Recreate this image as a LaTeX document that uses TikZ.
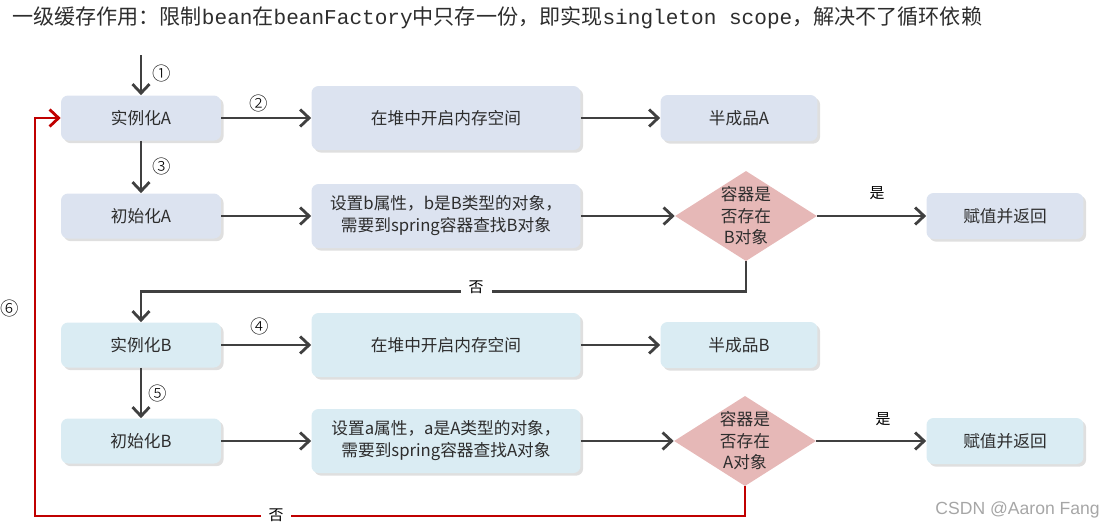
\documentclass[tikz,border=0pt]{standalone}
\usepackage{fontspec}
\setmainfont{Noto Sans CJK SC}
\newfontfamily\latinmono{Liberation Mono}
\newfontfamily\markfont{Noto Sans CJK SC Light}
\newfontfamily\wmfont{Liberation Sans}
\usepackage{xcolor}
\definecolor{boxblue}{RGB}{220, 227, 240}
\definecolor{boxcyan}{RGB}{218, 236, 243}
\definecolor{checkred}{RGB}{230, 184, 183}
\definecolor{flowgrey}{RGB}{64, 64, 64}
\definecolor{loopred}{RGB}{192, 0, 0}
\definecolor{textgrey}{RGB}{45, 45, 45}
\usetikzlibrary{
  arrows.meta,
  shapes.geometric,
  shadows
}

\begin{document}
\begin{tikzpicture}[x=0.02cm, y=-0.02cm,
  stepbox/.style={rectangle, rounded corners=4pt, fill=boxblue, text=textgrey,
    minimum width=3.2cm, minimum height=0.9cm, align=center,
    font=\fontsize{9.5}{12.5}\selectfont,
    drop shadow={shadow xshift=1.5pt, shadow yshift=-1.5pt, opacity=0.25}},
  heapbox/.style={stepbox, minimum width=5.38cm, minimum height=1.28cm},
  resultbox/.style={stepbox, minimum width=3.14cm, minimum height=0.92cm},
  checkbox/.style={diamond, fill=checkred, text=textgrey, inner sep=0pt, aspect=1.57,
    minimum width=2.84cm, minimum height=1.8cm, align=center,
    font=\fontsize{9.5}{12.2}\selectfont},
  flow/.style={draw=flowgrey, line width=1.6pt, -{Straight Barb[length=1.8mm, width=3.4mm]}},
  loopback/.style={flow, draw=loopred},
  steplabel/.style={font=\markfont\fontsize{10.5}{12}\selectfont, text=black},
  branchlabel/.style={font=\fontsize{8.5}{10}\selectfont, text=black, fill=white, inner sep=1.5pt}]

  \useasboundingbox (0,0) rectangle (1110,529);

  % ---------- title ----------
  \node[anchor=west, text=textgrey, font=\fontsize{12}{14}\selectfont] (title) at (6,18)
    {一级缓存作用：限制{\latinmono bean}在{\latinmono beanFactory}中只存一份，即实现{\latinmono singleton scope}，解决不了循环依赖};

  % ---------- bean A ----------
  \coordinate (start) at (141,55);
  \node[stepbox] (instA) at (141,118) {实例化A};
  \node[heapbox] (heapA) at (446,118) {在堆中开启内存空间};
  \node[resultbox] (halfA) at (739,118) {半成品A};
  \node[stepbox] (initA) at (141,216) {初始化A};
  \node[heapbox] (setB) at (446,216) {设置b属性，b是B类型的对象，\\需要到spring容器查找B对象};
  \node[checkbox] (checkA) at (746,216) {容器是\\否存在\\B对象};
  \node[resultbox] (retA) at (1005,216) {赋值并返回};

  % ---------- bean B ----------
  \node[stepbox, fill=boxcyan] (instB) at (141,345) {实例化B};
  \node[heapbox, fill=boxcyan] (heapB) at (446,345) {在堆中开启内存空间};
  \node[resultbox, fill=boxcyan] (halfB) at (739,345) {半成品B};
  \node[stepbox, fill=boxcyan] (initB) at (141,441) {初始化B};
  \node[heapbox, fill=boxcyan] (setA) at (446,441) {设置a属性，a是A类型的对象，\\需要到spring容器查找A对象};
  \node[checkbox] (checkB) at (745,441) {容器是\\否存在\\A对象};
  \node[resultbox, fill=boxcyan] (retB) at (1005,441) {赋值并返回};

  % connectors for A
  \draw[flow] (start) -- (instA);
  \draw[flow] (instA) -- (heapA);
  \draw[flow] (heapA) -- (halfA);
  \draw[flow] (instA) -- (initA);
  \draw[flow] (initA) -- (setB);
  \draw[flow] (setB) -- (checkA);
  \draw[flow] (checkA) -- (retA);
  \draw[flow] (checkA.south) -- ++(0,30) -| (instB.north);

  % connectors for B
  \draw[flow] (instB) -- (heapB);
  \draw[flow] (heapB) -- (halfB);
  \draw[flow] (instB) -- (initB);
  \draw[flow] (initB) -- (setA);
  \draw[flow] (setA) -- (checkB);
  \draw[flow] (checkB) -- (retB);

  % red loop back to A
  \coordinate (loopcorner) at (35,516);
  \draw[loopback] (checkB.south) |- (loopcorner) |- (instA.west);

  % labels
  \node[steplabel] (s1) at (162,73) {①};
  \node[steplabel] (s2) at (259,103) {②};
  \node[steplabel] (s3) at (162,166) {③};
  \node[steplabel] (s4) at (260,326) {④};
  \node[steplabel] (s5) at (158,393) {⑤};
  \node[steplabel] (s6) at (10,308) {⑥};
  \node[branchlabel] (yesA) at (877,193) {是};
  \node[branchlabel] (yesB) at (883,419) {是};
  \node[branchlabel, minimum width=0.62cm] (noA) at (476,287) {否};
  \node[branchlabel, minimum width=0.62cm] (noB) at (276,515) {否};

  \node[anchor=east, text=black!35, font=\wmfont\fontsize{10}{12}\selectfont] (mark) at (1106,510) {CSDN @Aaron Fang};

\end{tikzpicture}
\end{document}
